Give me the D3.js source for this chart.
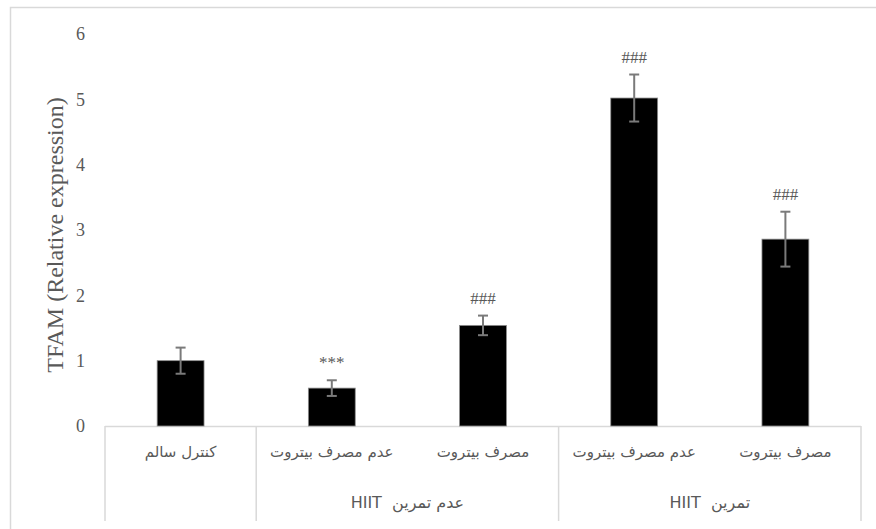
<!DOCTYPE html>
<html><head><meta charset="utf-8">
<script src="https://cdn.jsdelivr.net/npm/d3@7"></script>
<style>body{margin:0;background:#fff}svg{display:block}</style>
</head><body>
<svg id="c" width="876" height="529"></svg>
<script>
const categories = ["کنترل سالم", "عدم مصرف بیتروت", "مصرف بیتروت", "عدم مصرف بیتروت", "مصرف بیتروت"];
const keys = ["c0", "c1", "c2", "c3", "c4"];
const values = [1.0, 0.58, 1.54, 5.02, 2.86];
const errors = [0.2, 0.12, 0.15, 0.36, 0.42];
const marks = ["", "***", "###", "###", "###"];
const groupNames = ["", "عدم تمرین  HIIT", "تمرین  HIIT"];
const groupSpans = [[0, 0], [1, 2], [3, 4]];
const yTicks = [0, 1, 2, 3, 4, 5, 6];
const yTitle = "TFAM (Relative expression)";

const svg = d3.select("#c");
const pLeft = 105, pRight = 861, pTop = 34, pBase = 426;
const x = d3.scaleBand().domain(keys).range([pLeft, pRight]).paddingInner(0).paddingOuter(0);
const y = d3.scaleLinear().domain([0, 6]).range([pBase, pTop]);
const gray = "#595959", lineC = "#d9d9d9";

// outer frame (cropped at right/bottom)
svg.append("path").attr("d", "M10.5,529 V7.5 H876").attr("fill", "none").attr("stroke", lineC).attr("stroke-width", 1.5);

// y axis labels
const ya = svg.append("g").attr("transform", `translate(${pLeft},0)`)
  .call(d3.axisLeft(y).tickValues(yTicks).tickSize(0).tickPadding(20).tickFormat(d3.format("d")));
ya.select(".domain").remove();
ya.selectAll("text").attr("font-family", "Liberation Serif, Times New Roman, serif").attr("font-size", 18).attr("fill", gray);

svg.append("text").attr("transform", `translate(63,235) rotate(-90)`)
  .attr("text-anchor", "middle").attr("font-family", "Liberation Serif, Times New Roman, serif")
  .attr("font-size", 24).attr("fill", gray).text(yTitle);

// category axis
const xa = svg.append("g").attr("transform", `translate(0,${pBase})`)
  .call(d3.axisBottom(x).tickSize(0).tickPadding(20).tickFormat((d, i) => categories[i]));
xa.select(".domain").remove();
xa.selectAll("text").attr("font-family", "DejaVu Sans, sans-serif").attr("font-size", 15).attr("fill", gray)
  .attr("direction", "rtl");
svg.append("line").attr("x1", pLeft).attr("x2", pRight).attr("y1", pBase + 0.5).attr("y2", pBase + 0.5)
  .attr("stroke", lineC).attr("stroke-width", 1.5);
// group dividers
const divs = [pLeft, x(keys[1]), x(keys[3]), pRight];
svg.selectAll(".div").data(divs).join("line").attr("x1", d => d).attr("x2", d => d)
  .attr("y1", pBase).attr("y2", 521).attr("stroke", lineC).attr("stroke-width", 1.5);
// group labels
svg.selectAll(".grp").data(groupSpans).join("text")
  .attr("x", d => (x(keys[d[0]]) + x(keys[d[1]]) + x.bandwidth()) / 2)
  .attr("y", 508).attr("text-anchor", "middle").attr("direction", "rtl")
  .attr("xml:space", "preserve").style("white-space", "pre")
  .attr("font-family", "DejaVu Sans, sans-serif").attr("font-size", 16).attr("fill", gray)
  .text((d, i) => groupNames[i]);

// bars
const bw = x.bandwidth() * 0.31;
const cx = i => x(keys[i]) + x.bandwidth() / 2;
svg.selectAll(".bar").data(values).join("rect")
  .attr("x", (d, i) => cx(i) - bw / 2).attr("y", d => y(d))
  .attr("width", bw).attr("height", d => y(0) - y(d))
  .attr("fill", "#000").attr("stroke", "#8c8c8c").attr("stroke-width", 0.8);

// error bars
const eb = svg.append("g").attr("stroke", "#7a7a7a").attr("stroke-width", 2);
values.forEach((v, i) => {
  const c = cx(i);
  eb.append("line").attr("x1", c).attr("x2", c).attr("y1", y(v + errors[i])).attr("y2", y(v - errors[i]));
  eb.append("line").attr("x1", c - 5).attr("x2", c + 5).attr("y1", y(v + errors[i])).attr("y2", y(v + errors[i]));
  eb.append("line").attr("x1", c - 5).attr("x2", c + 5).attr("y1", y(v - errors[i])).attr("y2", y(v - errors[i]));
});

// significance marks
svg.selectAll(".mk").data(marks).join("text")
  .attr("x", (d, i) => cx(i)).attr("y", (d, i) => y(values[i] + errors[i]) - 12)
  .attr("text-anchor", "middle").attr("font-family", "Liberation Serif, Times New Roman, serif")
  .attr("font-size", 17).attr("fill", gray).text(d => d);
</script>
</body></html>
